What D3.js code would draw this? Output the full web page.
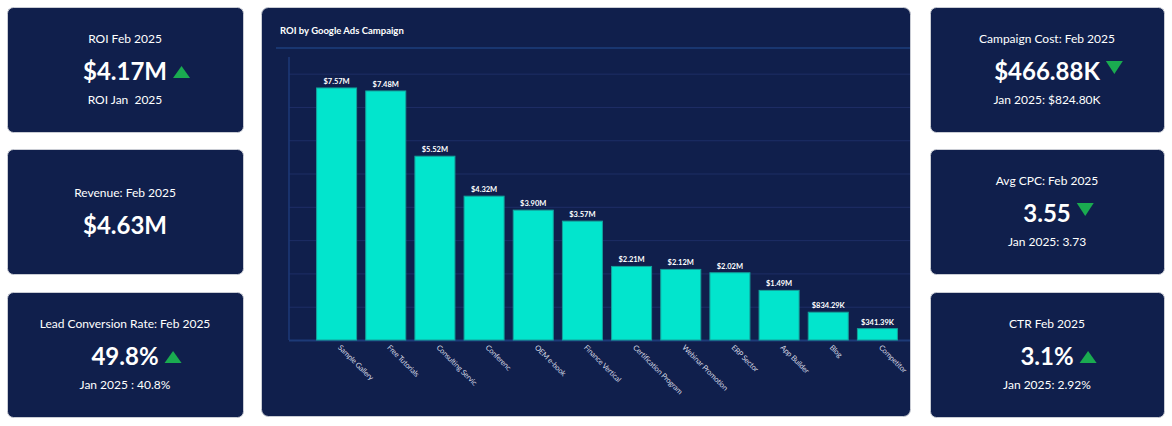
<!DOCTYPE html>
<html>
<head>
<meta charset="utf-8">
<script src="https://cdn.jsdelivr.net/npm/d3@7"></script>
<style>
  body { margin: 0; background: #ffffff; }
  svg { display: block; font-family: Lato, "Open Sans", sans-serif; }
  text { white-space: pre; }
</style>
</head>
<body>
<div id="dash"></div>
<script>
// bar chart data
const campaigns = ["Sample Gallery", "Free Tutorials", "Consulting Servic", "Conferenc", "OEM e-book",
  "Finance Vertical", "Certification Program", "Webinar Promotion", "ERP Sector", "App Builder", "Blog", "Competitor"];
const roiValues = [7570000, 7480000, 5520000, 4320000, 3900000, 3570000, 2210000, 2120000, 2020000, 1490000, 834290, 341390];
const yTicks = [0, 1e6, 2e6, 3e6, 4e6, 5e6, 6e6, 7e6, 8e6];

// kpi cards (left column then right column)
const cardTitles = ["ROI Feb 2025", "Revenue: Feb 2025", "Lead Conversion Rate: Feb 2025",
  "Campaign Cost: Feb 2025", "Avg CPC: Feb 2025", "CTR Feb 2025"];
const cardValues = ["$4.17M", "$4.63M", "49.8%", "$466.88K", "3.55", "3.1%"];
const cardSubs = ["ROI Jan  2025", "", "Jan 2025 : 40.8%", "Jan 2025: $824.80K", "Jan 2025: 3.73", "Jan 2025: 2.92%"];
const cardTrend = ["up", "", "up", "down", "down", "up"];

const W = 1172, H = 426;
const navy = "#101f4c";
const green = "#1aab50";

const svg = d3.select("#dash").append("svg")
  .attr("width", W)
  .attr("height", H);

// ---- kpi cards ----
const colX = [7, 930], colW = [236, 234];
const rowY = [7, 149, 292], cardH = 125;

cardTitles.forEach((t, i) => {
  let col = Math.floor(i / 3), row = i % 3;
  let x = colX[col], y = rowY[row], w = colW[col];
  let cx = x + w / 2;
  let g = svg.append("g").attr("class", "card");

  g.append("rect")
    .attr("x", x + 0.5).attr("y", y + 0.5)
    .attr("width", w).attr("height", cardH)
    .attr("rx", 6)
    .style("fill", navy)
    .style("stroke", "#c9ccd4")
    .style("stroke-width", 1);

  let hasSub = cardSubs[i] != "";
  let tY = hasSub ? y + 36 : y + 48;
  let vY = hasSub ? y + 73 : y + 85;

  g.append("text")
    .attr("x", cx).attr("y", tY)
    .style("text-anchor", "middle")
    .style("fill", "#ffffff")
    .style("font-size", "12px")
    .text(t);

  let val = g.append("text")
    .attr("x", cx).attr("y", vY)
    .style("text-anchor", "middle")
    .style("fill", "#ffffff")
    .style("font-size", "24px")
    .style("font-weight", 700)
    .text(cardValues[i]);

  if (hasSub) {
    g.append("text")
      .attr("x", cx).attr("y", y + 97)
      .style("text-anchor", "middle")
      .style("fill", "#ffffff")
      .style("font-size", "12px")
      .text(cardSubs[i]);
  }

  // trend arrow after the value
  if (cardTrend[i] != "") {
    let len = val.node().getComputedTextLength();
    let ax = cx + len / 2 + 6;
    let pts = cardTrend[i] == "up"
      ? [[ax, vY - 2], [ax + 17, vY - 2], [ax + 8.5, vY - 14]]
      : [[ax, vY - 19], [ax + 17, vY - 19], [ax + 8.5, vY - 6]];
    g.append("path")
      .attr("d", d3.line()(pts) + "Z")
      .style("fill", green);
  }
});

// ---- chart panel ----
const panel = { x: 261, y: 7, w: 649, h: 409 };

svg.append("rect")
  .attr("x", panel.x + 0.5).attr("y", panel.y + 0.5)
  .attr("width", panel.w).attr("height", panel.h)
  .attr("rx", 7)
  .style("fill", navy)
  .style("stroke", "#c9ccd4")
  .style("stroke-width", 1);

svg.append("text")
  .attr("x", 280).attr("y", 34)
  .style("fill", "#ffffff")
  .style("font-size", "9.5px")
  .style("font-weight", 700)
  .text("ROI by Google Ads Campaign");

svg.append("line")
  .attr("x1", 276).attr("x2", panel.x + panel.w)
  .attr("y1", 48).attr("y2", 48)
  .style("stroke", "#1c3f7c")
  .style("stroke-width", 1.5);

let x = d3.scaleBand()
  .domain(campaigns)
  .range([312, 902])
  .paddingInner(0.186)
  .paddingOuter(0.093);

let y = d3.scaleLinear()
  .domain([0, 8.5e6])
  .range([340, 57]);

// gridlines
svg.append("g")
  .attr("class", "grid")
  .attr("transform", "translate(289,0)")
  .call(d3.axisLeft(y).tickValues(yTicks).tickSize(-(panel.x + panel.w - 289)).tickFormat(() => ""))
  .call(g => g.select(".domain").remove())
  .call(g => g.selectAll(".tick line").style("stroke", d => d == 0 ? "#1d3a78" : "#1e2e66").style("stroke-width", d => d == 0 ? 2 : 1));

// y axis line
svg.append("line")
  .attr("x1", 289).attr("x2", 289)
  .attr("y1", y.range()[1]).attr("y2", y(0))
  .style("stroke", "#1d3a78")
  .style("stroke-width", 1.5);

// bars
svg.selectAll("rect.bar")
  .data(roiValues)
  .enter()
  .append("rect")
  .attr("class", "bar")
  .attr("x", (d, i) => x(campaigns[i]))
  .attr("y", d => y(d))
  .attr("width", x.bandwidth())
  .attr("height", d => y(0) - y(d))
  .style("fill", "#02e5cd")
  .style("stroke", "#14a19b")
  .style("stroke-width", 1);

const fmt = v => v >= 1e6 ? "$" + (v / 1e6).toFixed(2) + "M" : "$" + (v / 1e3).toFixed(2) + "K";

// value labels
svg.selectAll("text.valueLabel")
  .data(roiValues)
  .enter()
  .append("text")
  .attr("class", "valueLabel")
  .attr("x", (d, i) => x(campaigns[i]) + x.bandwidth() / 2)
  .attr("y", d => y(d) - 4)
  .style("text-anchor", "middle")
  .style("fill", "#ffffff")
  .style("font-size", "7.5px")
  .style("font-weight", 700)
  .text(d => fmt(d));

// rotated category labels
svg.selectAll("text.catLabel")
  .data(campaigns)
  .enter()
  .append("text")
  .attr("class", "catLabel")
  .attr("transform", d => `translate(${x(d) + x.bandwidth() / 2 + 1},${y(0) + 8}) rotate(45)`)
  .style("fill", "#d6d9e4")
  .style("font-size", "7.5px")
  .style("letter-spacing", "-0.2px")
  .text(d => d);
</script>
</body>
</html>
